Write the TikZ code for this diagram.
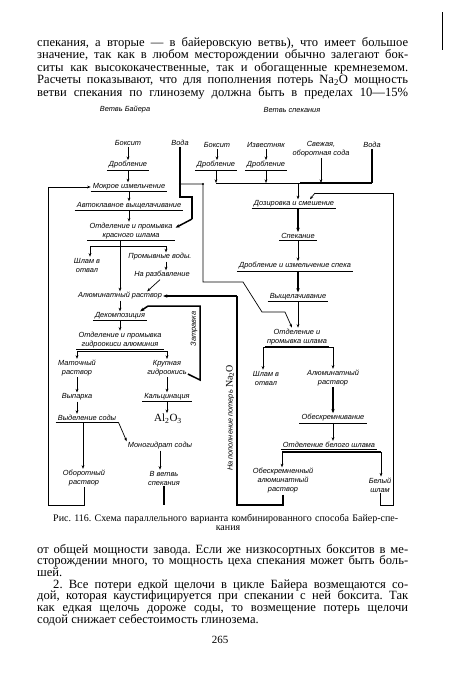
\documentclass[tikz,border=0pt]{standalone}
\usepackage{fontspec}
\setmainfont{Liberation Serif}
\newfontfamily\labsans{Liberation Sans}
\usetikzlibrary{arrows.meta,calc}
\frenchspacing
\newcommand{\jline}[2]{\makebox[#1][s]{#2}}
\newcommand{\labfont}{\labsans\itshape\fontsize{7.4}{9}\selectfont}
\begin{document}
\begin{tikzpicture}[x=1pt,y=-1pt,
  txt/.style={inner sep=0pt, anchor=base west, font=\fontsize{12.6}{13}\selectfont},
  lab/.style={font=\labfont, inner sep=1pt, align=center},
  op/.style={lab, inner xsep=2pt, inner ysep=1.2pt,
    append after command={(\tikzlastnode.south west) edge[draw, line width=0.6pt] (\tikzlastnode.south east)}},
  ln/.style={line width=0.7pt},
  heavy/.style={line width=1.5pt},
  flow/.style={ln, -{Stealth[length=3.6pt,width=2.8pt]}},
  hflow/.style={heavy, -{Stealth[length=4.2pt,width=3.4pt]}}]
\useasboundingbox (0,0) rectangle (450,688);

% scan mark at the top right
\draw[line width=0.6pt] (442,12) -- (442,50);

% ---------- top paragraph ----------
\node[txt] (t1) at (37,46)   {\jline{371pt}{спекания, а вторые — в байеровскую ветвь), что имеет большое}};
\node[txt] (t2) at (37,58.5) {\jline{371pt}{значение, так как в любом месторождении обычно залегают бок-}};
\node[txt] (t3) at (37,71)   {\jline{371pt}{ситы как высококачественные, так и обогащенные кремнеземом.}};
\node[txt] (t4) at (37,83.5) {\jline{371pt}{Расчеты показывают, что для пополнения потерь Na\textsubscript{2}O мощность}};
\node[txt] (t5) at (37,96)   {\jline{371pt}{ветви спекания по глинозему должна быть в пределах 10—15\%}};

% ---------- headers ----------
\node[lab] (hb) at (125,110) {Ветвь Байера};
\node[lab] (hs) at (292,110) {Ветвь спекания};

% ---------- Bayer branch ----------
\node[lab] (bx1)  at (128,143) {Боксит};
\node[op]  (dr1)  at (128,165) {Дробление};
\node[lab] (voda1) at (180,143) {Вода};
\node[op]  (mok)  at (129,187) {Мокрое измельчение};
\node[op]  (vysh) at (129,206) {Автоклавное выщелачивание};
\node[op]  (otd1) at (131,231) {Отделение и промывка\\красного шлама};
\node[lab] (shl1) at (87,265)  {Шлам в\\отвал};
\node[lab] (prom) at (160,257) {Промывные воды.};
\node[lab] (razb) at (162,275) {На разбавление};
\node[lab] (alr)  at (120,296) {Алюминатный раствор};
\node[op]  (dek)  at (120,316) {Декомпозиция};
\node[op]  (otd2) at (120,340) {Отделение и промывка\\гидроокиси алюминия};
\node[lab] (mat)  at (77,368)  {Маточный\\раствор};
\node[lab] (krup) at (167,368) {Крупная\\гидроокись};
\node[lab] (vyp)  at (77,397)  {Выпарка};
\node[op]  (kal)  at (167,397) {Кальцинация};
\node[inner sep=1pt, font=\fontsize{11}{11}\selectfont] (al) at (168,419) {Al\textsubscript{2}O\textsubscript{3}};
\node[op]  (vyd)  at (87,418)  {Выделение соды};
\node[lab] (mono) at (160,446) {Моногидрат соды};
\node[lab] (obr)  at (84,478)  {Оборотный\\раствор};
\node[lab] (vvet) at (164,478) {В ветвь\\спекания};
\node[lab, rotate=90] (zat) at (194,329) {Затравка};

% ---------- sintering branch ----------
\node[lab] (bx2)  at (217,145) {Боксит};
\node[op]  (dr2)  at (216,165) {Дробление};
\node[lab] (izv)  at (266,145) {Известняк};
\node[op]  (dr3)  at (266,165) {Дробление};
\node[lab] (soda) at (321,149) {Свежая,\\оборотная сода};
\node[lab] (voda2) at (372,145) {Вода};
\node[op]  (doz)  at (294,204) {Дозировка и смешение};
\node[op]  (spek) at (298,236) {Спекание};
\node[op]  (drob) at (295,266) {Дробление и измельчение спека};
\node[op]  (vyshs) at (298,297) {Выщелачивание};
\node[op]  (otds) at (297,337) {Отделение и\\промывка шлама};
\node[lab] (shl2) at (266,378) {Шлам в\\отвал};
\node[lab] (alr2) at (333,378) {Алюминатный\\раствор};
\node[op]  (obesk) at (333,418) {Обескремнивание};
\node[op]  (otdb) at (329,445) {Отделение белого шлама};
\node[lab] (obeskr) at (283,481) {Обескремненный\\алюминатный\\раствор};
\node[lab] (bel)  at (380,485) {Белый\\шлам};
\node[lab, rotate=90] (na) at (230,418) {На пополнение потерь {\upshape\rmfamily\fontsize{10}{10}\selectfont Na\textsubscript{2}O}};

\coordinate (bot) at (0,505);
\coordinate (col) at (298,183);

% ---------- Bayer connectors ----------
\draw[flow] (bx1.south) -- (bx1.south |- dr1.north);
\draw[flow] (dr1.south) -- (dr1.south |- mok.north);
\draw[flow] (mok.south) -- (mok.south |- vysh.north);
\draw[flow] (vysh.south) -- (vysh.south |- otd1.north);
% water
\draw[heavy] (voda1.south) -- (180,197) -- (192,197) -- (192,219);
\draw[hflow] (192,219) -- ($(otd1.north east)+(1,6)$);
\fill (180,184) circle (1.1pt) (203,184) circle (1.1pt);
\draw[ln] (180,184) -- (203,184) -- (203,282) -- (243,282) -- (262,312) -- (285,312);
\draw[flow] (285,312) -- ($(otds.north)+(-5,0)$);
% red mud separation
\draw[ln] (90,246) -- (166,246);
\draw[flow] (90,246) -- (90,0 |- shl1.north);
\draw[flow] (166,246) -- (166,0 |- prom.north);
\draw[flow] (alr.north |- otd1.south) -- (alr.north);
\draw[flow] (166,0 |- prom.south) -- (166,0 |- razb.north);
\draw[flow] ($(razb.south)+(-2,0)$) -- ($(alr.north east)+(-16,0)$);
\draw[flow] (alr.south) -- (alr.south |- dek.north);
\draw[flow] (dek.south) -- (dek.south |- otd2.north);
% seed
\draw[heavy] ($(krup.south east)+(0,-3)$) -- (200,380) -- (200,306) -- (148,306);
\draw[hflow] (148,306) -- ($(dek.north east)+(-7,0)$);
% hydroxide separation
\draw[ln] (77,351) -- (167,351);
\draw[flow] (77,351) -- (mat.north);
\draw[flow] (167,351) -- (krup.north);
\draw[flow] (mat.south) -- (mat.south |- vyp.north);
\draw[flow] (vyp.south) -- (vyp.south |- vyd.north);
\draw[flow] (krup.south) -- (krup.south |- kal.north);
\draw[flow] (kal.south) -- (kal.south |- al.north);
\draw[flow] (vyd.south east) -- (mono.north west);
\draw[flow] (83,0 |- vyd.south) -- (83,0 |- obr.north);
\draw[flow] (mono.south) -- (mono.south |- vvet.north);
\draw[heavy] (vvet.south) -- (vvet.south |- bot);
% recycle liquor
\draw[flow] (obr.south) -- (obr.south |- bot) -- (48,505) -- (48,187) -- (mok.west);
% Na2O makeup
\draw[heavy] (obeskr.south) -- (obeskr.south |- bot) -- (237,505) -- (237,296);
\draw[hflow] (237,296) -- (alr.east);

% ---------- sintering connectors ----------
\draw[flow] (bx2.south) -- (bx2.south |- dr2.north);
\draw[flow] (izv.south) -- (izv.south |- dr3.north);
\draw[ln] (dr2.south |- col) -- (300,183);
\draw[heavy] (300,183) -- (voda2.south |- col);
\draw[heavy] (voda2.south) -- (voda2.south |- col);
\draw[flow] (dr2.south) -- (dr2.south |- col);
\draw[flow] (dr3.south) -- (dr3.south |- col);
\draw[flow] (soda.south) -- (soda.south |- col);
\draw[flow] (col) -- (col |- doz.north);
\draw[ln] (bel.south) -- (bel.south |- bot) -- (393,505) -- (393,193) -- (315,193);
\draw[flow] (315,193) -- ($(doz.north)+(16,0)$);
\draw[hflow] (spek.south |- doz.south) -- (spek.north);
\draw[flow] (spek.south) -- (spek.south |- drob.north);
\draw[hflow] (spek.south |- drob.south) -- (spek.south |- vyshs.north);
\draw[flow] (vyshs.south) -- (vyshs.south |- otds.north);
\draw[ln] (263,347) -- (333,347);
\draw[flow] (263,347) -- (263,0 |- shl2.north);
\draw[flow] (333,347) -- (alr2.north);
\draw[hflow] (alr2.south) -- (alr2.south |- obesk.north);
\draw[flow] (obesk.south) -- (obesk.south |- otdb.north);
\draw[heavy] (282,452) -- (381,452);
\draw[flow] (282,452) -- (282,0 |- obeskr.north);
\draw[flow] (381,452) -- (381,0 |- bel.north);

% ---------- caption ----------
\node[txt, font=\fontsize{10}{11}\selectfont] (cap1) at (53,521) {\jline{345pt}{Рис. 116. Схема параллельного варианта комбинированного способа Байер-спе-}};
\node[inner sep=0pt, anchor=base, font=\fontsize{10}{11}\selectfont] (cap2) at (228,530) {кания};

% ---------- bottom paragraph ----------
\node[txt] (b1) at (37,553)   {\jline{371pt}{от общей мощности завода. Если же низкосортных бокситов в ме-}};
\node[txt] (b2) at (37,564.7) {\jline{371pt}{сторождении много, то мощность цеха спекания может быть боль-}};
\node[txt] (b3) at (37,576.3) {шей.};
\node[txt] (b4) at (53,588)   {\jline{355pt}{2. Все потери едкой щелочи в цикле Байера возмещаются со-}};
\node[txt] (b5) at (37,599.7) {\jline{371pt}{дой, которая каустифицируется при спекании с ней боксита. Так}};
\node[txt] (b6) at (37,611.3) {\jline{371pt}{как едкая щелочь дороже соды, то возмещение потерь щелочи}};
\node[txt] (b7) at (37,623)   {содой снижает себестоимость глинозема.};
\node[inner sep=0pt, anchor=base, font=\fontsize{11}{11}\selectfont] (pg) at (220,643) {265};
\end{tikzpicture}
\end{document}
